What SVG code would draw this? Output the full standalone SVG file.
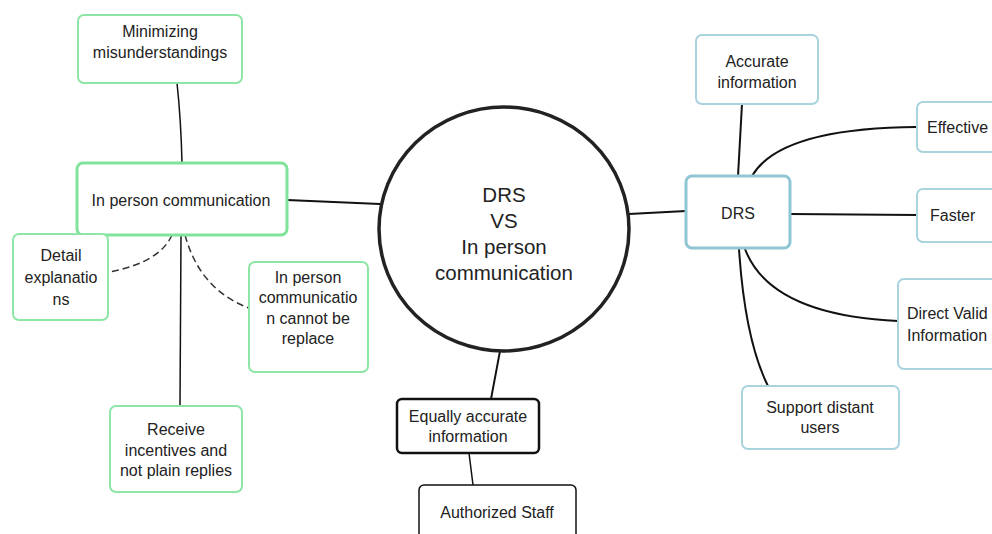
<svg xmlns="http://www.w3.org/2000/svg" width="992" height="534" viewBox="0 0 992 534">
<style>
.g{fill:#fff;stroke:#8ee6a6;stroke-width:2}
.gb{fill:#fff;stroke:#7fe39a;stroke-width:3}
.b{fill:#fff;stroke:#a9d3dd;stroke-width:2}
.bb{fill:#fff;stroke:#8fc6d4;stroke-width:3}
.k{fill:#fff;stroke:#111;stroke-width:2.5}
.k1{fill:#fff;stroke:#111;stroke-width:1.5}
text{font-family:"Liberation Sans",Arial,sans-serif;font-size:16px;fill:#222;text-anchor:middle;dominant-baseline:central}
.c{font-size:20.5px}
.l{text-anchor:start}
.ln{fill:none;stroke:#111;stroke-width:2}
.th{fill:none;stroke:#111;stroke-width:1.5}
.d{fill:none;stroke:#333;stroke-width:1.5;stroke-dasharray:7 4}
</style>
<rect width="992" height="534" fill="#fff"/>
<g id="connectors">
<path class="th" d="M177,83 Q181,120 182,163"/>
<path class="ln" d="M287,200 L380,204"/>
<path class="d" d="M172,235 Q160,262 110,272"/>
<path class="d" d="M185,235 Q200,290 249,308"/>
<path class="th" d="M181,235 L180,405"/>
<path class="ln" d="M500,351 L491,399"/>
<path class="th" d="M469,453 L473,485"/>
<path class="ln" d="M629,214 L686,211"/>
<path class="ln" d="M738,176 L742,104"/>
<path class="ln" d="M752,176 Q780,128 917,127"/>
<path class="ln" d="M790,214 L917,215"/>
<path class="ln" d="M745,249 Q770,315 898,321"/>
<path class="ln" d="M739,249 Q745,340 768,386"/>
</g>
<g id="center">
<ellipse cx="504" cy="229" rx="125" ry="122" fill="#fff" stroke="#222" stroke-width="3.5"/>
<text class="c" x="504" y="194">DRS</text>
<text class="c" x="504" y="220">VS</text>
<text class="c" x="504" y="246">In person</text>
<text class="c" x="504" y="272">communication</text>
</g>
<g id="minimizing">
<rect class="g" x="78" y="15" width="164" height="68" rx="6"/>
<text x="160" y="31">Minimizing</text>
<text x="160" y="52">misunderstandings</text>
</g>
<g id="inperson">
<rect class="gb" x="77" y="163" width="210" height="72" rx="6"/>
<text x="181" y="200">In person communication</text>
</g>
<g id="detail">
<rect class="g" x="13" y="234" width="95" height="86" rx="6"/>
<text x="61" y="255">Detail</text>
<text x="61" y="277">explanatio</text>
<text x="61" y="299">ns</text>
</g>
<g id="cannot">
<rect class="g" x="249" y="262" width="119" height="110" rx="6"/>
<text x="308" y="277">In person</text>
<text x="308" y="297">communicatio</text>
<text x="308" y="318">n cannot be</text>
<text x="308" y="338">replace</text>
</g>
<g id="receive">
<rect class="g" x="110" y="406" width="132" height="86" rx="6"/>
<text x="176" y="429">Receive</text>
<text x="176" y="450">incentives and</text>
<text x="176" y="470">not plain replies</text>
</g>
<g id="equally">
<rect class="k" x="397" y="399" width="142" height="54" rx="5"/>
<text x="468" y="416">Equally accurate</text>
<text x="468" y="436">information</text>
</g>
<g id="authorized">
<rect class="k1" x="419" y="485" width="157" height="60" rx="5"/>
<text x="497" y="512">Authorized Staff</text>
</g>
<g id="drs">
<rect class="bb" x="686" y="176" width="104" height="72" rx="6"/>
<text x="738" y="213">DRS</text>
</g>
<g id="accurate">
<rect class="b" x="696" y="35" width="122" height="69" rx="6"/>
<text x="757" y="61">Accurate</text>
<text x="757" y="82">information</text>
</g>
<g id="effective">
<rect class="b" x="917" y="102" width="90" height="50" rx="6"/>
<text class="l" x="927" y="127">Effective</text>
</g>
<g id="faster">
<rect class="b" x="917" y="189" width="90" height="53" rx="6"/>
<text class="l" x="930" y="215">Faster</text>
</g>
<g id="direct">
<rect class="b" x="898" y="279" width="110" height="90" rx="6"/>
<text class="l" x="907" y="313">Direct Valid</text>
<text class="l" x="907" y="335">Information</text>
</g>
<g id="support">
<rect class="b" x="742" y="386" width="157" height="63" rx="6"/>
<text x="820" y="407">Support distant</text>
<text x="820" y="427">users</text>
</g>
</svg>
